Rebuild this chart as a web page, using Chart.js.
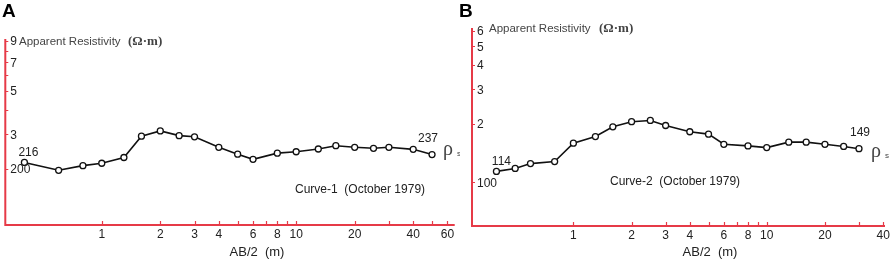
<!DOCTYPE html>
<html>
<head>
<meta charset="utf-8">
<script src="https://cdn.jsdelivr.net/npm/chart.js@4.4.0/dist/chart.umd.min.js"></script>
<style>
  body { margin: 0; background: #fff; width: 892px; height: 260px; position: relative; overflow: hidden; }
  .panel { position: absolute; top: 0; height: 260px; }
  #wrapA { left: 0; width: 460px; }
  #wrapB { left: 460px; width: 432px; }
</style>
</head>
<body>
<div class="panel" id="wrapA"><canvas id="chartA"></canvas></div>
<div class="panel" id="wrapB"><canvas id="chartB"></canvas></div>
<script>
// Curve-1 (panel A)
const spacingA = [0.4, 0.6, 0.8, 1, 1.3, 1.6, 2, 2.5, 3, 4, 5, 6, 8, 10, 13, 16, 20, 25, 30, 40, 50];
const rhoA = [216, 197, 208, 214, 229, 294, 313, 296, 292, 258, 238, 224, 241, 245, 253, 263, 258, 255, 258, 252, 237];
// Curve-2 (panel B)
const spacingB = [0.4, 0.5, 0.6, 0.8, 1, 1.3, 1.6, 2, 2.5, 3, 4, 5, 6, 8, 10, 13, 16, 20, 25, 30];
const rhoB = [114, 118, 125, 128, 159, 172, 193, 205, 208, 196, 182, 177, 157, 154, 151, 161, 161, 157, 153, 149];

// axis ticks
const xTicksA = [1, 2, 3, 4, 5, 6, 7, 8, 9, 10, 20, 30, 40, 50, 60];
const xLabelsA = [1, 2, 3, 4, 6, 8, 10, 20, 40, 60];
const xTicksB = [1, 2, 3, 4, 5, 6, 7, 8, 9, 10, 20, 30, 40];
const xLabelsB = [1, 2, 3, 4, 6, 8, 10, 20, 40];
const yTicksA = [200, 300, 400, 500, 600, 700, 800, 900];
const yLabelValuesA = [200, 300, 500, 700, 900];
const yLabelTextA = ['200', '3', '5', '7', '9'];
const yTicksB = [100, 200, 300, 400, 500, 600];
const yLabelValuesB = [100, 200, 300, 400, 500, 600];
const yLabelTextB = ['100', '2', '3', '4', '5', '6'];

const RED = '#e63a47';
const INK = '#222';
const SANS = '"Liberation Sans", Arial, sans-serif';
const SERIF = '"Liberation Serif", "DejaVu Serif", serif';

function toPoints(xs, ys) {
    return xs.map((x, i) => ({ x: x, y: ys[i] }));
}

// draws the red axes, inward ticks and all the annotation text
function decorPlugin(cfg) {
    return {
        id: 'decor',
        afterDraw(chart) {
            const ctx = chart.ctx;
            const area = chart.chartArea;
            const xs = chart.scales.x;
            const ys = chart.scales.y;
            ctx.save();

            // axes
            ctx.strokeStyle = RED;
            ctx.lineWidth = 2;
            ctx.beginPath();
            ctx.moveTo(area.left, area.top);
            ctx.lineTo(area.left, area.bottom);
            ctx.lineTo(area.right, area.bottom);
            ctx.stroke();

            ctx.lineWidth = 1.2;
            ctx.beginPath();
            cfg.yTicks.forEach(v => {
                const py = Math.round(ys.getPixelForValue(v)) + 0.5;
                ctx.moveTo(area.left, py);
                ctx.lineTo(area.left + 3, py);
            });
            cfg.xTicks.forEach(v => {
                const px = Math.round(xs.getPixelForValue(v)) + 0.5;
                ctx.moveTo(px, area.bottom);
                ctx.lineTo(px, area.bottom - 4);
            });
            ctx.stroke();

            // tick labels
            ctx.fillStyle = INK;
            ctx.font = '12px ' + SANS;
            ctx.textBaseline = 'middle';
            ctx.textAlign = 'left';
            cfg.yLabelValues.forEach((v, i) => {
                ctx.fillText(cfg.yLabelText[i], area.left + 5, ys.getPixelForValue(v) + 1);
            });
            ctx.textAlign = 'center';
            cfg.xLabels.forEach(v => {
                ctx.fillText(String(v), xs.getPixelForValue(v), area.bottom + 10);
            });

            // axis titles
            ctx.font = '13px ' + SANS;
            ctx.fillText('AB/2  (m)', cfg.xTitle[0], cfg.xTitle[1]);

            ctx.textAlign = 'left';
            ctx.fillStyle = '#444';
            ctx.font = '11.5px ' + SANS;
            ctx.fillText('Apparent Resistivity', cfg.yTitle[0], cfg.yTitle[1]);
            ctx.font = 'bold 13px ' + SERIF;
            ctx.fillText('(\u03A9\u00B7m)', cfg.yUnit[0], cfg.yUnit[1]);

            // panel letter
            ctx.fillStyle = '#000';
            ctx.font = 'bold 19px ' + SANS;
            ctx.fillText(cfg.letter, cfg.letterPos[0], cfg.letterPos[1]);

            // curve caption
            ctx.fillStyle = INK;
            ctx.font = '12px ' + SANS;
            ctx.fillText(cfg.caption, cfg.captionPos[0], cfg.captionPos[1]);

            // first / last values
            const first = cfg.points[0];
            const last = cfg.points[cfg.points.length - 1];
            ctx.textAlign = 'center';
            ctx.fillText(String(first.y), xs.getPixelForValue(first.x) + cfg.firstOff[0], ys.getPixelForValue(first.y) + cfg.firstOff[1]);
            ctx.fillText(String(last.y), xs.getPixelForValue(last.x) + cfg.lastOff[0], ys.getPixelForValue(last.y) + cfg.lastOff[1]);

            // rho_s
            ctx.fillStyle = '#444';
            ctx.font = '20px ' + SERIF;
            ctx.fillText('\u03C1', cfg.rho[0], cfg.rho[1]);
            ctx.font = '8px ' + SANS;
            ctx.fillText('s', cfg.rho[0] + 11, cfg.rho[1] + 4);

            ctx.restore();
        }
    };
}

function makeChart(canvasId, points, xRange, yRange, padding, decor) {
    return new Chart(document.getElementById(canvasId).getContext('2d'), {
        type: 'line',
        data: {
            datasets: [{
                data: points,
                borderColor: '#111',
                borderWidth: 1.6,
                pointRadius: 3,
                pointBorderWidth: 1.3,
                pointBackgroundColor: '#fff',
                pointBorderColor: '#111',
                tension: 0,
                fill: false
            }]
        },
        options: {
            responsive: true,
            maintainAspectRatio: false,
            animation: false,
            layout: { padding: padding },
            plugins: { legend: { display: false }, tooltip: { enabled: false } },
            scales: {
                x: { type: 'logarithmic', display: false, bounds: 'data', min: xRange[0], max: xRange[1] },
                y: { type: 'logarithmic', display: false, bounds: 'data', min: yRange[0], max: yRange[1] }
            }
        },
        plugins: [decorPlugin(decor)]
    });
}

const pointsA = toPoints(spacingA, rhoA);
const pointsB = toPoints(spacingB, rhoB);

makeChart('chartA', pointsA, [0.319, 65.4], [103.6, 921],
    { left: 4, right: 5, top: 39, bottom: 35 },
    {
        yTicks: yTicksA, yLabelValues: yLabelValuesA, yLabelText: yLabelTextA,
        xTicks: xTicksA, xLabels: xLabelsA,
        xTitle: [257, 252], yTitle: [19, 42], yUnit: [128, 42],
        letter: 'A', letterPos: [2, 12],
        caption: 'Curve-1  (October 1979)', captionPos: [295, 190],
        points: pointsA, firstOff: [4, -10], lastOff: [-4, -16],
        rho: [448, 150]
    });

makeChart('chartB', pointsB, [0.299, 40.9], [59.8, 620],
    { left: 12, right: 7, top: 28, bottom: 34 },
    {
        yTicks: yTicksB, yLabelValues: yLabelValuesB, yLabelText: yLabelTextB,
        xTicks: xTicksB, xLabels: xLabelsB,
        xTitle: [250, 252], yTitle: [29, 29], yUnit: [139, 29],
        letter: 'B', letterPos: [-1, 12],
        caption: 'Curve-2  (October 1979)', captionPos: [150, 182],
        points: pointsB, firstOff: [5, -10], lastOff: [1, -16],
        rho: [416, 152]
    });
</script>
</body>
</html>
